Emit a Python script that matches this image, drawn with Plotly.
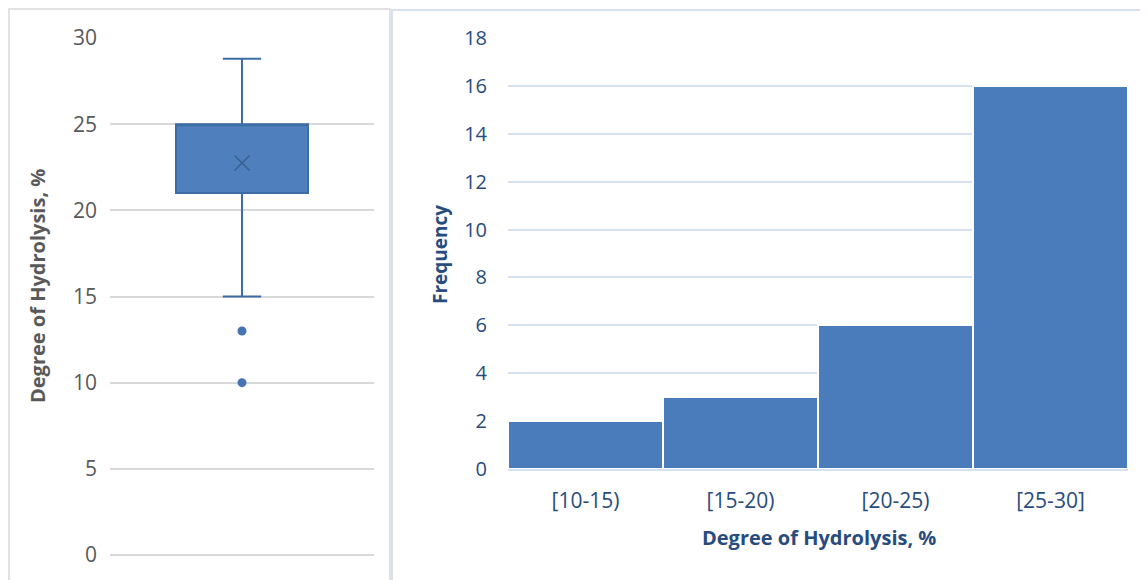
import plotly.graph_objects as go

# box plot summary (Degree of Hydrolysis, %)
box_q1 = 21.0
box_median = 25.0
box_q3 = 25.0
box_low = 15.0
box_high = 28.8
box_mean = 22.75
outliers = [13.0, 10.0]

# histogram
bins = ['[10-15)', '[15-20)', '[20-25)', '[25-30]']
counts = [2, 3, 6, 16]

# page body has an 8px margin, so the figure is a bit smaller than the window
OFF = 8
W, H = 1140, 572
GREY = '#595959'
NAVY = '#284c7e'
BLUE = '#4f80bd'


def px_x(v):
    return (v - OFF) / W


def px_y(v):
    return 1 - (v - OFF) / H


fig = go.Figure()

# ── left panel: box plot ──────────────────────────────────────────────
fig.add_trace(go.Box(
    x=[0], q1=[box_q1], median=[box_median], q3=[box_q3],
    lowerfence=[box_low], upperfence=[box_high],
    width=1.0, whiskerwidth=0.29,
    fillcolor=BLUE, line=dict(color='#3d6da6', width=2),
    hoverinfo='skip', showlegend=False,
    xaxis='x', yaxis='y',
))
fig.add_trace(go.Scatter(
    x=[0], y=[box_mean], mode='markers',
    marker=dict(symbol='x-thin-open', size=15, color='#3a5f8f',
                line=dict(color='#3a5f8f', width=1.5)),
    showlegend=False, xaxis='x', yaxis='y',
))
fig.add_trace(go.Scatter(
    x=[0] * len(outliers), y=outliers, mode='markers',
    marker=dict(symbol='circle', size=9, color='#4474b4'),
    showlegend=False, xaxis='x', yaxis='y',
))

# ── right panel: histogram ────────────────────────────────────────────
fig.add_trace(go.Bar(
    x=bins, y=counts,
    marker=dict(color='#4a7cbc', line=dict(color='white', width=2)),
    showlegend=False, xaxis='x2', yaxis='y2',
))

fig.update_layout(
    width=W, height=H,
    margin=dict(l=0, r=0, t=0, b=0),
    paper_bgcolor='white', plot_bgcolor='white',
    bargap=0,
    xaxis=dict(domain=[px_x(110), px_x(374)], range=[-1, 1], visible=False,
               fixedrange=True, automargin=False),
    yaxis=dict(domain=[px_y(555), px_y(38)], range=[0, 30], dtick=5,
               showgrid=True, gridcolor='#d9d9d9', gridwidth=1.5,
               zeroline=True, zerolinecolor='#d9d9d9', zerolinewidth=1.5,
               showline=False, ticks='', ticklabelstandoff=12, automargin=False,
               tickfont=dict(family='Open Sans', size=21, color=GREY)),
    xaxis2=dict(domain=[px_x(508), px_x(1128)], anchor='y2', automargin=False,
                showgrid=False, showline=True, linecolor='#d6e2f3', linewidth=2,
                ticks='', ticklabelstandoff=12,
                tickfont=dict(family='Open Sans', size=21, color=NAVY)),
    yaxis2=dict(domain=[px_y(469), px_y(38)], anchor='x2', range=[0, 18], dtick=2,
                showgrid=True, gridcolor='#d6e2f3', gridwidth=2, automargin=False,
                zeroline=False, ticks='', ticklabelstandoff=20,
                tickfont=dict(family='Open Sans', size=20, color=NAVY)),
    annotations=[
        dict(text='<b>Degree of Hydrolysis, %</b>', xref='paper', yref='paper',
             x=px_x(37), y=px_y(286), textangle=-90, showarrow=False,
             xanchor='center', yanchor='middle',
             font=dict(family='Open Sans', size=20, color=GREY)),
        dict(text='<b>Frequency</b>', xref='paper', yref='paper',
             x=px_x(440), y=px_y(255), textangle=-90, showarrow=False,
             xanchor='center', yanchor='middle',
             font=dict(family='Open Sans', size=19, color=NAVY)),
        dict(text='<b>Degree of Hydrolysis, %</b>', xref='paper', yref='paper',
             x=px_x(819), y=px_y(537), showarrow=False,
             xanchor='center', yanchor='middle',
             font=dict(family='Open Sans', size=20, color=NAVY)),
    ],
    shapes=[
        # left chart frame
        dict(type='rect', xref='paper', yref='paper',
             x0=px_x(9), x1=px_x(390), y0=px_y(600), y1=px_y(9),
             line=dict(color='#d9d9d9', width=1.5)),
        # right chart frame
        dict(type='rect', xref='paper', yref='paper',
             x0=px_x(392), x1=px_x(1160), y0=px_y(600), y1=px_y(10),
             line=dict(color='#d6e2f3', width=2)),
    ],
)

fig.write_html('out.html')
